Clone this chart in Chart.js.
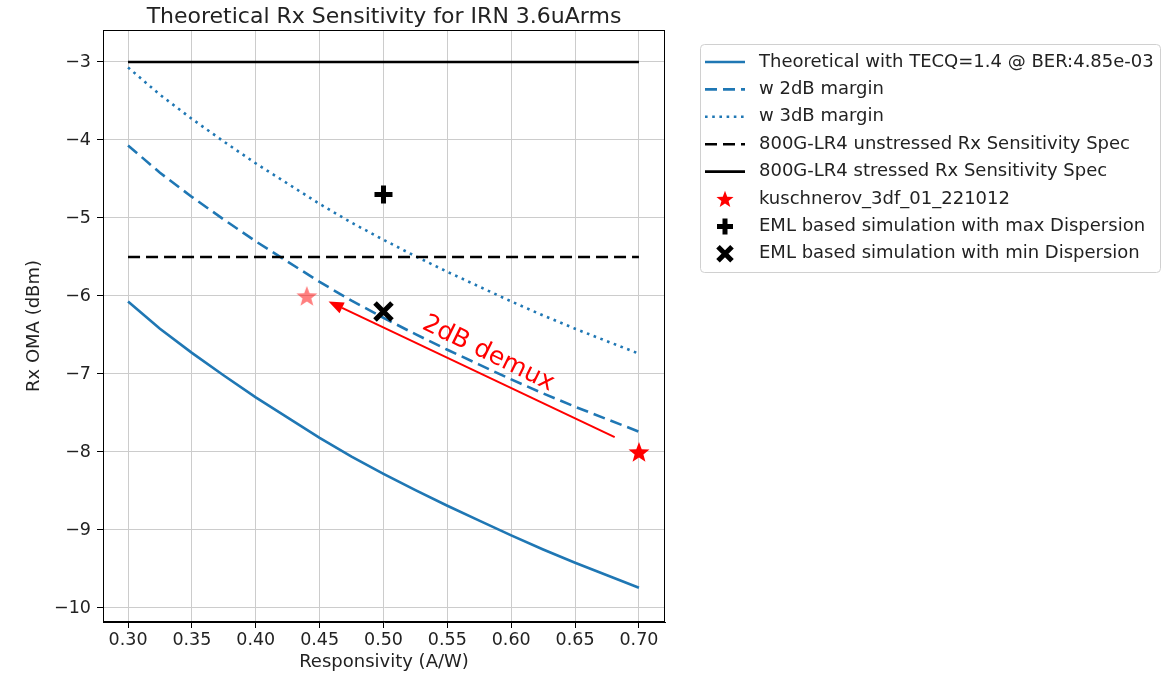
<!DOCTYPE html>
<html>
<head>
<meta charset="utf-8">
<script src="https://cdn.jsdelivr.net/npm/chart.js@4"></script>
<style>
  body { margin: 0; background: #fff; }
  canvas { display: block; }
</style>
</head>
<body>
<canvas id="myChart" width="1168" height="673"></canvas>
<script>
// Define the data
var responsivity = [0.30, 0.325, 0.35, 0.375, 0.40, 0.425, 0.45, 0.475, 0.50, 0.525, 0.55, 0.575, 0.60, 0.625, 0.65, 0.675, 0.70];
var theoretical = [-6.07, -6.42, -6.73, -7.02, -7.30, -7.56, -7.82, -8.06, -8.28, -8.49, -8.69, -8.88, -9.07, -9.25, -9.42, -9.58, -9.74];
var margin2dB   = [-4.07, -4.42, -4.73, -5.02, -5.30, -5.56, -5.82, -6.06, -6.28, -6.49, -6.69, -6.88, -7.07, -7.25, -7.42, -7.58, -7.74];
var margin3dB   = [-3.07, -3.42, -3.73, -4.02, -4.30, -4.56, -4.82, -5.06, -5.28, -5.49, -5.69, -5.88, -6.07, -6.25, -6.42, -6.58, -6.74];

var specR = [0.30, 0.70];
var unstressedSpec = [-5.5, -5.5];
var stressedSpec = [-3, -3];

var kuschnerovR = [0.44, 0.70];
var kuschnerovOMA = [-6.0, -8.0];
var emlMaxR = [0.50];
var emlMaxOMA = [-4.7];
var emlMinR = [0.50];
var emlMinOMA = [-6.2];

var xTickValues = [0.30, 0.35, 0.40, 0.45, 0.50, 0.55, 0.60, 0.65, 0.70];
var yTickValues = [-10, -9, -8, -7, -6, -5, -4, -3];

// annotation: arrow from (R, OMA) to (R, OMA)
var arrowFrom = [0.681, -7.81];
var arrowTo = [0.457, -6.07];
var arrowText = '2dB demux';
var arrowTextAt = [0.582, -6.74];
// End defining data

var BLUE = '#1f77b4';
var FONT = '"DejaVu Sans", sans-serif';

function pairs(xs, ys) {
  return xs.map(function(x, i) { return {x: x, y: ys[i]}; });
}

function makeStar(size, color) {
  var c = document.createElement('canvas');
  c.width = size; c.height = size;
  var g = c.getContext('2d');
  var cx = size / 2, cy = size / 2 + size * 0.04;
  var outer = size / 2 - 1, inner = outer * 0.42;
  g.beginPath();
  for (var i = 0; i < 10; i++) {
    var r = i % 2 ? inner : outer;
    var a = -Math.PI / 2 + i * Math.PI / 5;
    g.lineTo(cx + r * Math.cos(a), cy + r * Math.sin(a));
  }
  g.closePath();
  g.fillStyle = color;
  g.fill();
  return c;
}

var starFaded = makeStar(24, 'rgba(255,0,0,0.5)');
var starRed = makeStar(24, '#ff0000');
var starLegend = makeStar(20, '#ff0000');

function minusFmt(v) {
  return (v < 0 ? '\u2212' : '') + Math.abs(v);
}

var datasets = [
  { label: 'Theoretical with TECQ=1.4 @ BER:4.85e-03', type: 'line', data: pairs(responsivity, theoretical),
    borderColor: BLUE, borderWidth: 2.6, pointRadius: 0, order: 5, legendKind: 'line' },
  { label: 'w 2dB margin', type: 'line', data: pairs(responsivity, margin2dB),
    borderColor: BLUE, borderWidth: 2.6, borderDash: [12, 6], pointRadius: 0, order: 4, legendKind: 'line' },
  { label: 'w 3dB margin', type: 'line', data: pairs(responsivity, margin3dB),
    borderColor: BLUE, borderWidth: 2.6, borderDash: [2.6, 4.6], pointRadius: 0, order: 3, legendKind: 'line' },
  { label: '800G-LR4 unstressed Rx Sensitivity Spec', type: 'line', data: pairs(specR, unstressedSpec),
    borderColor: '#000', borderWidth: 2.6, borderDash: [12, 6], pointRadius: 0, order: 2, legendKind: 'line' },
  { label: '800G-LR4 stressed Rx Sensitivity Spec', type: 'line', data: pairs(specR, stressedSpec),
    borderColor: '#000', borderWidth: 2.6, pointRadius: 0, order: 1, legendKind: 'line' },
  { label: 'kuschnerov_3df_01_221012', type: 'scatter', data: pairs(kuschnerovR, kuschnerovOMA),
    pointStyle: [starFaded, starRed], order: 0, legendKind: 'star' },
  { label: 'EML based simulation with max Dispersion', type: 'scatter', data: pairs(emlMaxR, emlMaxOMA),
    pointStyle: 'cross', pointRadius: 9, borderColor: '#000', borderWidth: 5, order: 0, legendKind: 'cross' },
  { label: 'EML based simulation with min Dispersion', type: 'scatter', data: pairs(emlMinR, emlMinOMA),
    pointStyle: 'crossRot', pointRadius: 12, borderColor: '#000', borderWidth: 5, order: 0, legendKind: 'crossRot' }
];

// title, frame, arrow annotation and legend box
var extras = {
  id: 'extras',
  afterDatasetsDraw: function(chart) {
    var ctx = chart.ctx, a = chart.chartArea;
    var xs = chart.scales.x, ys = chart.scales.y;
    ctx.save();
    // frame (top/right spines)
    ctx.strokeStyle = '#000';
    ctx.lineWidth = 1;
    ctx.strokeRect(a.left + 0.5, a.top + 0.5, a.right - a.left - 1, a.bottom - a.top - 1);

    // title
    ctx.fillStyle = '#222';
    ctx.font = '22px ' + FONT;
    ctx.textAlign = 'center';
    ctx.textBaseline = 'middle';
    ctx.fillText('Theoretical Rx Sensitivity for IRN 3.6uArms', (a.left + a.right) / 2, 17);

    // arrow
    var x0 = xs.getPixelForValue(arrowFrom[0]), y0 = ys.getPixelForValue(arrowFrom[1]);
    var x1 = xs.getPixelForValue(arrowTo[0]), y1 = ys.getPixelForValue(arrowTo[1]);
    var ang = Math.atan2(y1 - y0, x1 - x0);
    var headL = 15, headW = 6;
    ctx.strokeStyle = '#ff0000';
    ctx.fillStyle = '#ff0000';
    ctx.lineWidth = 2;
    ctx.beginPath();
    ctx.moveTo(x0, y0);
    ctx.lineTo(x1 - headL * Math.cos(ang), y1 - headL * Math.sin(ang));
    ctx.stroke();
    ctx.beginPath();
    ctx.moveTo(x1, y1);
    ctx.lineTo(x1 - headL * Math.cos(ang) + headW * Math.sin(ang), y1 - headL * Math.sin(ang) - headW * Math.cos(ang));
    ctx.lineTo(x1 - headL * Math.cos(ang) - headW * Math.sin(ang), y1 - headL * Math.sin(ang) + headW * Math.cos(ang));
    ctx.closePath();
    ctx.fill();

    // arrow label
    var tx = xs.getPixelForValue(arrowTextAt[0]), ty = ys.getPixelForValue(arrowTextAt[1]);
    ctx.translate(tx, ty);
    ctx.rotate(26 * Math.PI / 180);
    ctx.font = '25px ' + FONT;
    ctx.textAlign = 'center';
    ctx.textBaseline = 'middle';
    ctx.fillText(arrowText, 0, 0);
    ctx.restore();

    // legend
    ctx.save();
    var lx = 700, ly = 44, lw = 460, lh = 228;
    ctx.fillStyle = 'rgba(255,255,255,0.8)';
    ctx.strokeStyle = '#d0d0d0';
    ctx.lineWidth = 1;
    ctx.beginPath();
    ctx.roundRect(lx + 0.5, ly + 0.5, lw, lh, 4);
    ctx.fill();
    ctx.stroke();
    ctx.font = '18px ' + FONT;
    ctx.textAlign = 'left';
    ctx.textBaseline = 'middle';
    chart.data.datasets.forEach(function(ds, i) {
      var cy = 62 + i * 27.4;
      var kind = ds.legendKind;
      if (kind === 'line') {
        ctx.strokeStyle = ds.borderColor;
        ctx.lineWidth = ds.borderWidth;
        ctx.setLineDash(ds.borderDash || []);
        ctx.beginPath();
        ctx.moveTo(705, cy);
        ctx.lineTo(745, cy);
        ctx.stroke();
        ctx.setLineDash([]);
      } else if (kind === 'star') {
        ctx.drawImage(starLegend, 725 - 10, cy - 10);
      } else {
        ctx.strokeStyle = '#000';
        ctx.lineWidth = 5;
        ctx.beginPath();
        if (kind === 'cross') {
          ctx.moveTo(725 - 8, cy); ctx.lineTo(725 + 8, cy);
          ctx.moveTo(725, cy - 8); ctx.lineTo(725, cy + 8);
        } else {
          ctx.moveTo(725 - 7, cy - 7); ctx.lineTo(725 + 7, cy + 7);
          ctx.moveTo(725 + 7, cy - 7); ctx.lineTo(725 - 7, cy + 7);
        }
        ctx.stroke();
      }
      ctx.fillStyle = '#222';
      ctx.fillText(ds.label, 759, cy);
    });
    ctx.restore();
  }
};

var ctx = document.getElementById('myChart').getContext('2d');

var myChart = new Chart(ctx, {
  type: 'scatter',
  data: { datasets: datasets },
  options: {
    responsive: false,
    animation: false,
    layout: { padding: { left: 0, top: 30, right: 503, bottom: 0 } },
    plugins: { legend: { display: false }, tooltip: { enabled: false } },
    scales: {
      x: {
        type: 'linear',
        min: 0.2804,
        max: 0.7204,
        afterFit: function(scale) { scale.height = 51; },
        afterBuildTicks: function(scale) { scale.ticks = xTickValues.map(function(v) { return {value: v}; }); },
        ticks: { font: { family: FONT, size: 17.5 }, color: '#222', padding: 2, callback: function(v) { return v.toFixed(2); } },
        grid: { color: '#cccccc', lineWidth: 1, tickLength: 6, tickColor: '#000' },
        border: { color: '#000', width: 1 },
        title: { display: true, text: 'Responsivity (A/W)', font: { family: FONT, size: 18 }, color: '#222', padding: { top: 0, bottom: 0 } }
      },
      y: {
        type: 'linear',
        min: -10.18,
        max: -2.59,
        afterFit: function(scale) { scale.width = 103; },
        afterBuildTicks: function(scale) { scale.ticks = yTickValues.map(function(v) { return {value: v}; }); },
        ticks: { font: { family: FONT, size: 17.5 }, color: '#222', padding: 6, callback: minusFmt },
        grid: { color: '#cccccc', lineWidth: 1, tickLength: 6, tickColor: '#000' },
        border: { color: '#000', width: 1 },
        title: { display: true, text: 'Rx OMA (dBm)', font: { family: FONT, size: 18 }, color: '#222', padding: { top: 24, bottom: 0 } }
      }
    }
  },
  plugins: [extras]
});
</script>
</body>
</html>
